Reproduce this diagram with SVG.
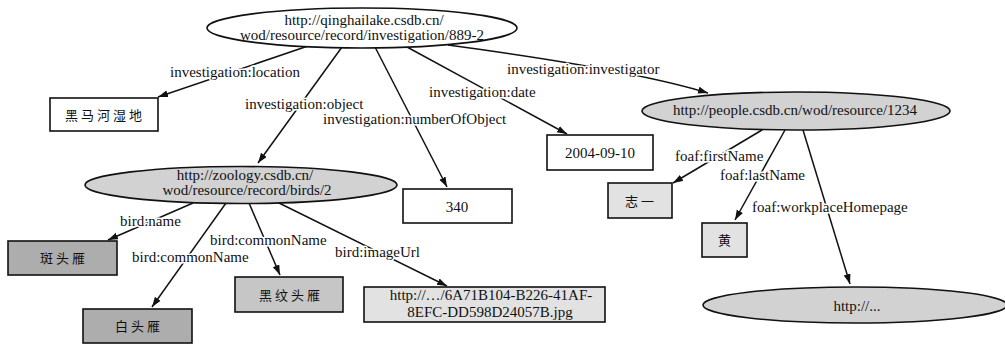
<svg xmlns="http://www.w3.org/2000/svg" width="1005" height="344" viewBox="0 0 1005 344">
<style>
text{font-family:"Liberation Serif","Noto Sans CJK SC",serif;fill:#111}
.t{font-size:15px}
.lbl{font-size:15px;stroke:#fff;stroke-width:3px;paint-order:stroke;stroke-linejoin:round}
.cjk{font-size:13px;letter-spacing:3px}
.e{fill:#d2d2d2;stroke:#111;stroke-width:1.6}
.ew{fill:#fff;stroke:#111;stroke-width:1.6}
.b{fill:#fff;stroke:#111;stroke-width:1.6}
.bl{fill:#e2e2e2;stroke:#111;stroke-width:1.6}
.bd{fill:#adadad;stroke:#111;stroke-width:1.6}
.bm{fill:#c6c6c6;stroke:#111;stroke-width:1.6}
.c{fill:none;stroke:#111;stroke-width:1.5;marker-end:url(#ah)}
</style>
<defs>
<marker id="ah" markerUnits="userSpaceOnUse" markerWidth="11" markerHeight="8" refX="10" refY="3.5" orient="auto">
<path d="M0,0 L10,3.5 L0,7 z" fill="#111"/>
</marker>
</defs>
<rect width="1005" height="344" fill="#fff"/>
<g id="connectors">
<path class="c" d="M308,46 L158,97"/>
<path class="c" d="M342,47 L258,163"/>
<path class="c" d="M375,47 L447,187"/>
<path class="c" d="M407,47 L567,134"/>
<path class="c" d="M448,45 C530,56 640,72 708,93"/>
<path class="c" d="M762,130 L673,183"/>
<path class="c" d="M785,130 L735,220"/>
<path class="c" d="M803,130 L850,284"/>
<path class="c" d="M193,203 L108,240"/>
<path class="c" d="M226,203 L152,307"/>
<path class="c" d="M249,203 L280,275"/>
<path class="c" d="M279,203 L447,286"/>
<text class="lbl" x="170" y="77">investigation:location</text>
<text class="lbl" x="245" y="109">investigation:object</text>
<text class="lbl" x="323" y="124">investigation:numberOfObject</text>
<text class="lbl" x="429" y="97">investigation:date</text>
<text class="lbl" x="507" y="74">investigation:investigator</text>
<text class="lbl" x="675" y="161">foaf:firstName</text>
<text class="lbl" x="720" y="180">foaf:lastName</text>
<text class="lbl" x="752" y="212">foaf:workplaceHomepage</text>
<text class="lbl" x="120" y="226">bird:name</text>
<text class="lbl" x="210" y="245">bird:commonName</text>
<text class="lbl" x="132" y="262">bird:commonName</text>
<text class="lbl" x="335" y="257">bird:imageUrl</text>
</g>
<g id="investigation">
<ellipse class="ew" cx="362" cy="28" rx="155" ry="20"/>
<text class="t" x="364" y="25" text-anchor="middle">http://qinghailake.csdb.cn/</text>
<text class="t" x="362" y="40" text-anchor="middle">wod/resource/record/investigation/889-2</text>
</g>
<g id="location">
<rect class="b" x="50" y="98" width="108" height="33"/>
<text class="cjk" x="105" y="120" text-anchor="middle">黑马河湿地</text>
</g>
<g id="bird">
<ellipse class="e" cx="241" cy="185" rx="156" ry="18.5"/>
<text class="t" x="245" y="180" text-anchor="middle">http://zoology.csdb.cn/</text>
<text class="t" x="247" y="195" text-anchor="middle">wod/resource/record/birds/2</text>
</g>
<g id="number">
<rect class="b" x="403" y="189" width="109" height="34"/>
<text class="t" x="457" y="212" text-anchor="middle">340</text>
</g>
<g id="date">
<rect class="b" x="547" y="135" width="106" height="35"/>
<text class="t" x="600" y="158" text-anchor="middle">2004-09-10</text>
</g>
<g id="person">
<ellipse class="e" cx="796" cy="111" rx="154" ry="19"/>
<text class="t" x="795" y="115" text-anchor="middle">http://people.csdb.cn/wod/resource/1234</text>
</g>
<g id="firstName">
<rect class="bl" x="608" y="183" width="64" height="35"/>
<text class="cjk" x="641" y="206" text-anchor="middle">志一</text>
</g>
<g id="lastName">
<rect class="bl" x="702" y="223" width="45" height="34"/>
<text class="cjk" x="726" y="245" text-anchor="middle">黄</text>
</g>
<g id="homepage">
<ellipse class="e" cx="855" cy="305" rx="152" ry="18"/>
<text class="t" x="857" y="311" text-anchor="middle">http://...</text>
</g>
<g id="name">
<rect class="bd" x="8" y="241" width="109" height="34"/>
<text class="cjk" x="64" y="263" text-anchor="middle">斑头雁</text>
</g>
<g id="commonName1">
<rect class="bd" x="83" y="309" width="109" height="34"/>
<text class="cjk" x="139" y="331" text-anchor="middle">白头雁</text>
</g>
<g id="commonName2">
<rect class="bm" x="235" y="277" width="108" height="35"/>
<text class="cjk" x="291" y="300" text-anchor="middle">黑纹头雁</text>
</g>
<g id="imageUrl">
<rect class="bl" x="364" y="287" width="241" height="35"/>
<text class="t" x="491" y="300" text-anchor="middle">http://…/6A71B104-B226-41AF-</text>
<text class="t" x="490" y="317" text-anchor="middle">8EFC-DD598D24057B.jpg</text>
</g>
</svg>
